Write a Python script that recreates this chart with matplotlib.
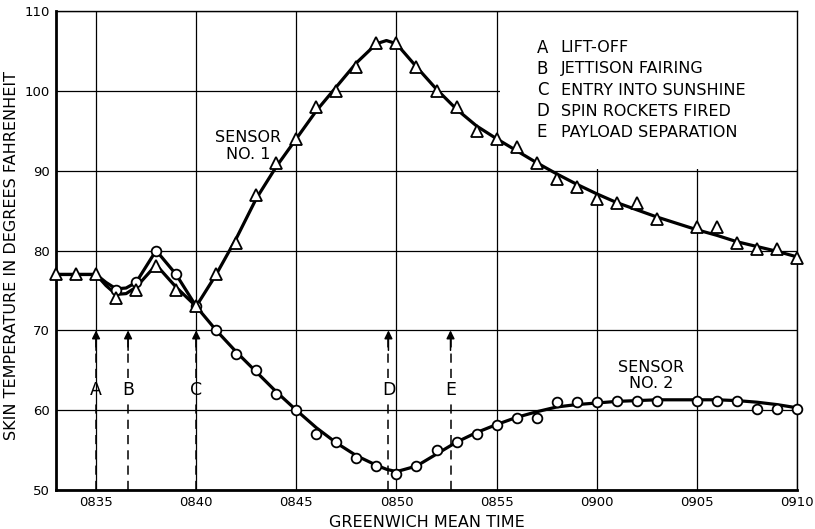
import matplotlib
matplotlib.use('Agg')
import matplotlib.pyplot as plt
from matplotlib.patches import Rectangle

# minutes after 0800 GMT
s1_min = [33, 34, 35, 36, 37, 38, 39, 40, 41, 42, 43, 44, 45, 46, 47, 48, 49, 50,
          51, 52, 53, 54, 55, 56, 57, 58, 59, 60, 61, 62, 63, 65, 66, 67, 68, 69, 70]
s1_temp = [77, 77, 77, 74, 75, 78, 75, 73, 77, 81, 87, 91, 94, 98, 100, 103, 106, 106,
           103, 100, 98, 95, 94, 93, 91, 89, 88, 86.5, 86, 86, 84, 83, 83, 81, 80.2, 80.2, 79]

s2_min = [36, 37, 38, 39, 40, 41, 42, 43, 44, 45, 46, 47, 48, 49, 50, 51, 52, 53,
          54, 55, 56, 57, 58, 59, 60, 61, 62, 63, 65, 66, 67, 68, 69, 70]
s2_temp = [75, 76, 80, 77, 73, 70, 67, 65, 62, 60, 57, 56, 54, 53, 52, 53, 55, 56,
           57, 58.2, 59, 59, 61, 61, 61, 61.2, 61.2, 61.2, 61.1, 61.2, 61.2, 60.1, 60.1, 60.2]

# faired curves
c1_min = [33, 34, 35, 35.5, 36, 36.5, 37, 38, 39, 40, 41, 42, 43, 44, 45, 46, 47, 48,
          49, 49.5, 50, 51, 52, 53, 54, 55, 56, 57, 58, 59, 60, 61, 62, 63, 64, 65, 66,
          67, 68, 69, 70]
c1_temp = [77, 77, 77, 75.6, 74.5, 74.6, 75.4, 78.2, 75.4, 73, 77, 81.5, 86.5, 90.5, 94,
           97.5, 100.5, 103.5, 105.9, 106.3, 105.9, 103, 100.2, 97.7, 95.6, 94, 92.5, 91,
           89.6, 88.3, 87.1, 86, 85.1, 84.2, 83.4, 82.6, 81.9, 81.1, 80.5, 79.9, 79.2]

c2_min = [33, 34, 35, 35.5, 36, 36.5, 37, 38, 39, 40, 41, 42, 43, 44, 45, 46, 47, 48,
          49, 49.5, 50, 51, 52, 53, 54, 55, 56, 57, 58, 59, 60, 61, 62, 63, 64, 65, 66,
          67, 68, 69, 70]
c2_temp = [77, 77, 77, 76, 75.2, 75.3, 76, 80, 77, 73, 70, 67.3, 64.8, 62.3, 60, 57.8,
           55.9, 54.3, 53.1, 52.6, 52.3, 53, 54.5, 56, 57.2, 58.2, 59.1, 59.8, 60.4, 60.7,
           60.9, 61.1, 61.2, 61.3, 61.3, 61.3, 61.3, 61.2, 61.0, 60.7, 60.3]

event_letters = ['A', 'B', 'C', 'D', 'E']
event_min = [35, 36.6, 40, 49.6, 52.7]
event_names = ['LIFT-OFF', 'JETTISON FAIRING', 'ENTRY INTO SUNSHINE',
               'SPIN ROCKETS FIRED', 'PAYLOAD SEPARATION']

xticks = [35, 40, 45, 50, 55, 60, 65, 70]
xlabels = ['0835', '0840', '0845', '0850', '0855', '0900', '0905', '0910']
yticks = [50, 60, 70, 80, 90, 100, 110]

plt.rcParams['font.family'] = ['DejaVu Sans']

fig = plt.figure(figsize=(8.15, 5.29), dpi=100)
ax = fig.add_axes([0.0687, 0.0737, 0.9092, 0.9055])
ax.set_xlim(33, 70)
ax.set_ylim(50, 110)
ax.set_xticks(xticks)
ax.set_xticklabels(xlabels)
ax.set_yticks(yticks)
ax.tick_params(length=0, labelsize=9.5, pad=4.5)
ax.grid(True, color='black', linewidth=0.9, zorder=0)
ax.set_axisbelow(True)
for side in ['left', 'bottom']:
    ax.spines[side].set_linewidth(2)
for side in ['top', 'right']:
    ax.spines[side].set_linewidth(1.0)

# blank area behind the key
ax.add_patch(Rectangle((55.15, 90.15), 14.85, 19.85, facecolor='white',
                       edgecolor='none', zorder=1))

ax.plot(c1_min, c1_temp, color='black', linewidth=2.3, zorder=3)
ax.plot(c2_min, c2_temp, color='black', linewidth=2.3, zorder=3)
ax.plot(s1_min, s1_temp, linestyle='none', marker='^', markersize=9,
        markerfacecolor='white', markeredgecolor='black', markeredgewidth=1.3,
        zorder=5, clip_on=False)
ax.plot(s2_min, s2_temp, linestyle='none', marker='o', markersize=7,
        markerfacecolor='white', markeredgecolor='black', markeredgewidth=1.3,
        zorder=4, clip_on=False)

for letter, m in zip(event_letters, event_min):
    ax.plot([m, m], [50, 61], color='black', linewidth=1.1, dashes=(6, 4), zorder=2)
    ax.plot([m, m], [64, 69], color='black', linewidth=1.1, dashes=(6, 4), zorder=2)
    ax.annotate('', xy=(m, 70), xytext=(m, 67.5),
                arrowprops=dict(arrowstyle='-|>', color='black', lw=1.1,
                                mutation_scale=12, shrinkA=0, shrinkB=0), zorder=2)
    ax.text(m, 62.5, letter, ha='center', va='center', fontsize=12.5)

key_y = [105.4, 102.75, 100.1, 97.45, 94.8]
for letter, name, y in zip(event_letters, event_names, key_y):
    ax.text(57.0, y, letter, ha='left', va='center', fontsize=12)
    ax.text(58.2, y, name, ha='left', va='center', fontsize=11.5)

ax.text(42.6, 93.1, 'SENSOR\nNO. 1', ha='center', va='center', fontsize=11.5,
        linespacing=1.1)
ax.text(62.7, 64.3, 'SENSOR\nNO. 2', ha='center', va='center', fontsize=11.5,
        linespacing=1.1)

ax.set_xlabel('GREENWICH MEAN TIME', fontsize=11.5)
ax.set_ylabel('SKIN TEMPERATURE IN DEGREES FAHRENHEIT', fontsize=11.5)
ax.xaxis.set_label_coords(0.5, -0.052)
ax.yaxis.set_label_coords(-0.05, 0.49)

fig.savefig('out.png', dpi=100)
plt.close(fig)
